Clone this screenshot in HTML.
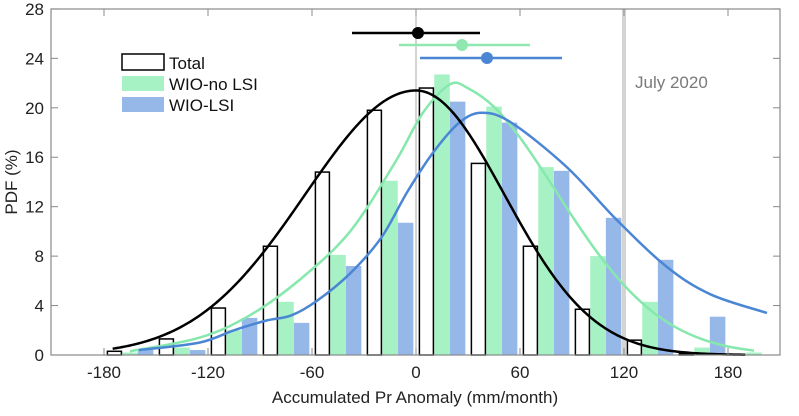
<!DOCTYPE html>
<html><head><meta charset="utf-8"><style>
html,body{margin:0;padding:0;background:#fff;}
svg{display:block;font-family:"Liberation Sans",Arial,sans-serif;}
</style></head><body>
<svg id="s" width="799" height="416" viewBox="0 0 799 416" xmlns="http://www.w3.org/2000/svg">
<rect x="0" y="0" width="799" height="416" fill="#fff"/>
<g id="bars"></g>
<line x1="416" y1="9" x2="416" y2="355" stroke="#aaa" stroke-width="1"/>
<line x1="624" y1="9" x2="624" y2="355" stroke="#d4d4d0" stroke-width="4"/>
<g id="curves"></g>
<rect x="51" y="9" width="729" height="346" fill="none" stroke="#888" stroke-width="1.2"/>
<g id="ticks" stroke="#888" stroke-width="1"></g>
<g id="labels" font-size="17" fill="#222"></g>
<line x1="352" y1="33" x2="480" y2="33" stroke="#000" stroke-width="2.5"/>
<circle cx="418" cy="33" r="6" fill="#000"/>
<line x1="399" y1="45" x2="530" y2="45" stroke="#8ee8b0" stroke-width="2.5"/>
<circle cx="462" cy="45" r="6" fill="#8ee8b0"/>
<line x1="420" y1="58" x2="562" y2="58" stroke="#4a86d4" stroke-width="2.5"/>
<circle cx="487" cy="58" r="6" fill="#4a86d4"/>
<text x="635" y="88" font-size="17" fill="#7a7a7a">July 2020</text>
<rect x="122" y="54" width="42" height="16" fill="#fff" stroke="#000" stroke-width="1.5"/>
<rect x="122" y="76" width="42" height="15" fill="#a6f2c4"/>
<rect x="122" y="97" width="42" height="15" fill="#95b8e8"/>
<text x="169" y="69" font-size="17" fill="#111">Total</text>
<text x="169" y="90" font-size="17" fill="#111">WIO-no LSI</text>
<text x="169" y="111" font-size="17" fill="#111">WIO-LSI</text>
<text x="415" y="403" font-size="17" fill="#222" text-anchor="middle">Accumulated Pr Anomaly (mm/month)</text>
<text transform="translate(17,182) rotate(-90)" font-size="17" fill="#222" text-anchor="middle">PDF (%)</text>
</svg>
<script>
var NS="http://www.w3.org/2000/svg";
function X(v){return 416+v*1.7333;}
function Y(v){return 355-v*12.36;}
function el(p,t,a,txt){var e=document.createElementNS(NS,t);for(var k in a)e.setAttribute(k,a[k]);if(txt!==undefined)e.textContent=txt;p.appendChild(e);return e;}
var bins=[-165,-135,-105,-75,-45,-15,15,45,75,105,135,165,195];
var tot=[0.3,1.3,3.8,8.8,14.8,19.8,21.6,15.5,8.8,3.7,1.2,0.1,0];
var gr=[0.2,0.6,2.0,4.3,8.1,14.1,22.7,20.1,15.2,8.0,4.3,0.6,0.2];
var bl=[0.4,0.4,3.0,2.6,7.2,10.7,20.5,18.8,14.9,11.1,7.7,3.1,0];
var B=document.getElementById('bars');
var w=15.5;
bins.forEach(function(c,i){
 if(gr[i]>0)el(B,'rect',{x:X(c)-w/2,y:Y(gr[i]),width:w,height:gr[i]*12.36,fill:'#a6f2c4'});
 if(bl[i]>0)el(B,'rect',{x:X(c+9)-w/2,y:Y(bl[i]),width:w,height:bl[i]*12.36,fill:'#95b8e8'});
 if(tot[i]>0.05)el(B,'rect',{x:X(c-9)-w/2+0.75,y:Y(tot[i]),width:w-1.5,height:tot[i]*12.36,fill:'#fff',stroke:'#000','stroke-width':1.5});
});
function path(pts){
 var P=pts.map(function(p){return [X(p[0]),Y(p[1])];});
 var d='M'+P[0][0]+','+P[0][1];
 for(var i=0;i<P.length-1;i++){
  var p0=P[Math.max(0,i-1)],p1=P[i],p2=P[i+1],p3=P[Math.min(P.length-1,i+2)];
  var c1=[p1[0]+(p2[0]-p0[0])/6,p1[1]+(p2[1]-p0[1])/6];
  var c2=[p2[0]-(p3[0]-p1[0])/6,p2[1]-(p3[1]-p1[1])/6];
  d+=' C'+c1[0]+','+c1[1]+' '+c2[0]+','+c2[1]+' '+p2[0]+','+p2[1];
 }
 return d;
}
function poly(f,a,b){var d='';for(var x=a;x<=b;x+=1){d+=(d?' L':'M')+X(x).toFixed(2)+','+Y(f(x)).toFixed(2);}return d;}
function blackF(x){var s=x<0?64:51;return 21.4*Math.exp(-x*x/(2*s*s));}
var green=[[-165,0.3],[-125,1.4],[-96,3.2],[-67,6.1],[-38,10.0],[-12,15.6],[4,19.6],[19.6,21.9]];
for(var x=30;x<=195;x+=15){var d=x-19.6;green.push([x,21.9*Math.exp(-d*d/(2*61*61))]);}
var blue=[[-160,0.4],[-125,1.0],[-105,2.0],[-86,2.8],[-72,3.2],[-57,4.4],[-38,6.6],[-20,9.5],[-5,13.2],[10,16.4],[25,18.8],[38,19.6],[55,18.8],[87,15.2],[116,10.9],[145,7.1],[170,4.9],[202.5,3.4]];
var C=document.getElementById('curves');
el(C,'path',{d:path(green),fill:'none',stroke:'#86e8ac','stroke-width':2.5});
el(C,'path',{d:path(blue),fill:'none',stroke:'#4a86d4','stroke-width':2.5});
el(C,'path',{d:poly(blackF,-175,190),fill:'none',stroke:'#000','stroke-width':2.5,'stroke-linejoin':'round'});
var T=document.getElementById('ticks'),L=document.getElementById('labels');
[-180,-120,-60,0,60,120,180].forEach(function(v){
 var x=X(v);
 el(T,'line',{x1:x,y1:355,x2:x,y2:348});
 el(T,'line',{x1:x,y1:9,x2:x,y2:16});
 el(L,'text',{x:x,y:378,'text-anchor':'middle'},String(v));
});
for(var v=0;v<=28;v+=4){
 var y=Y(v);
 el(T,'line',{x1:51,y1:y,x2:58,y2:y});
 el(T,'line',{x1:780,y1:y,x2:773,y2:y});
 el(L,'text',{x:44,y:y+6,'text-anchor':'end'},String(v));
}
</script>
</body></html>
